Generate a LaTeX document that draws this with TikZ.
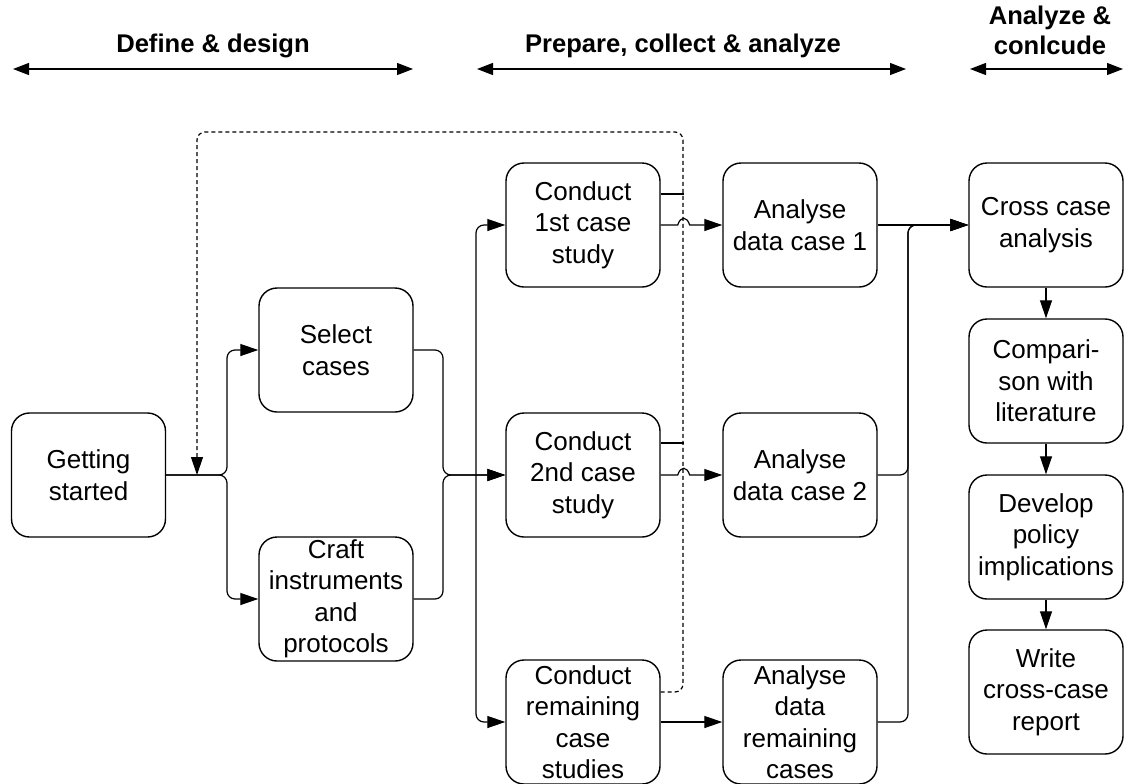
\documentclass[tikz,border=0pt]{standalone}
\usepackage{fontspec}
\setmainfont{Liberation Sans}
\usetikzlibrary{arrows.meta, calc}

\tikzset{
  caixa/.style={draw, line width=0.7pt, rounded corners=9pt, minimum width=77pt,
    minimum height=62pt, inner sep=1pt, align=center,
    font=\fontsize{13}{15.75}\selectfont},
  seta/.style={line width=0.6pt, -{Triangle[length=9pt,width=6pt]}},
  linha/.style={line width=0.6pt},
  canto/.style={rounded corners=4pt},
  retorno/.style={line width=0.6pt, dash pattern=on 2pt off 1.5pt},
  fase/.style={line width=0.6pt,
    {Triangle[length=8pt,width=6pt]}-{Triangle[length=8pt,width=6pt]}},
  titulo/.style={font=\fontsize{12.8}{15}\selectfont\bfseries, align=center}
}

\begin{document}
\begin{tikzpicture}[x=0.5pt, y=-0.5pt]
  \useasboundingbox (0,0) rectangle (1126,783);

  % fases
  \node[titulo] (t1) at (213,46) {Define \& design};
  \node[titulo] (t2) at (683,46) {Prepare, collect \& analyze};
  \node[titulo] (t3) at (1050,30) {Analyze \&\\conlcude};
  \coordinate (f1a) at (13,69);   \coordinate (f1b) at (413,69);
  \coordinate (f2a) at (477,69);  \coordinate (f2b) at (906,69);
  \coordinate (f3a) at (970,69);  \coordinate (f3b) at (1123,69);
  \draw[fase] (f1a) -- (f1b);
  \draw[fase] (f2a) -- (f2b);
  \draw[fase] (f3a) -- (f3b);

  % caixas
  \node[caixa] (gs) at (88.5,475) {Getting\\started};
  \node[caixa] (sc) at (336,350) {Select\\cases};
  \node[caixa] (ci) at (336,599) {Craft\\instruments\\and\\protocols};
  \node[caixa] (c1) at (583,225) {Conduct\\1st case\\study};
  \node[caixa] (c2) at (583,475) {Conduct\\2nd case\\study};
  \node[caixa] (cr) at (583,722) {Conduct\\remaining\\case\\studies};
  \node[caixa] (a1) at (800,225) {Analyse\\data case 1};
  \node[caixa] (a2) at (800,475) {Analyse\\data case 2};
  \node[caixa] (ar) at (800,722) {Analyse\\data\\remaining\\cases};
  \node[caixa] (cc) at (1046,225) {Cross case\\analysis};
  \node[caixa] (cl) at (1046,381) {Compari-\\son with\\literature};
  \node[caixa] (dp) at (1046,537) {Develop\\policy\\implications};
  \node[caixa] (wr) at (1046,692) {Write\\cross-case\\report};

  % ramificacao e juncao
  \coordinate (ramo) at (227,475);
  \coordinate (junta) at (443,475);
  \coordinate (tronco) at (476,475);
  \draw[seta, canto] (gs.east) -- (ramo) |- (sc.west);
  \draw[seta, canto] (gs.east) -- (ramo) |- (ci.west);
  \draw[seta, canto] (sc.east) -| (junta) -- (c2.west);
  \draw[seta, canto] (ci.east) -| (junta) -- (c2.west);
  \draw[seta, canto] (tronco) |- (c1.west);
  \draw[seta, canto] (tronco) |- (cr.west);

  % retorno tracejado
  \coordinate (ret) at (683,132);
  \coordinate (volta) at (197,475);
  \draw[linha] ([yshift=15.5pt]c1.east) -- ++(23,0);
  \draw[linha] ([yshift=16pt]c2.east) -- ++(23,0);
  \draw[retorno, canto, -{Triangle[length=9pt,width=6pt]}]
    ([yshift=15pt]cr.east) -| (ret) -| (volta);

  % analise dos casos
  \draw[seta] (c1.east) -- ++(17,0) .. controls +(3,-9) and +(-3,-9) .. ++(12,0) -- (a1.west);
  \draw[seta] (c2.east) -- ++(17,0) .. controls +(3,-9) and +(-3,-9) .. ++(12,0) -- (a2.west);
  \draw[seta] (cr.east) -- (ar.west);

  % para analise cruzada
  \coordinate (uniao) at (908,225);
  \draw[seta] (a1.east) -- (cc.west);
  \draw[seta, canto] (a2.east) -| (uniao) -- (cc.west);
  \draw[seta, canto] (ar.east) -| (uniao) -- (cc.west);
  \draw[seta] (cc.south) -- (cl.north);
  \draw[seta] (cl.south) -- (dp.north);
  \draw[seta] (dp.south) -- (wr.north);
\end{tikzpicture}
\end{document}
